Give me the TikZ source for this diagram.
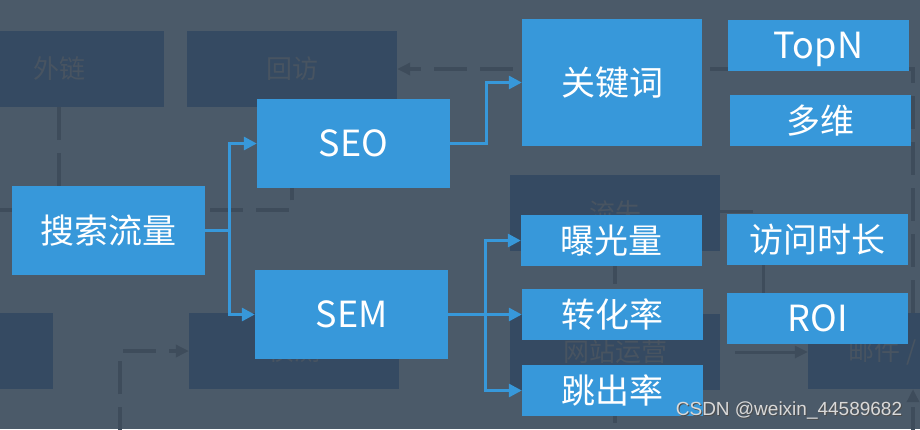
\documentclass[tikz,border=0pt]{standalone}
\usepackage{fontspec}
\setmainfont{Liberation Sans}
\newfontfamily\cjk{Noto Sans CJK SC}
\usetikzlibrary{arrows.meta}
\definecolor{bgc}{RGB}{75,90,105}
\definecolor{fboxc}{RGB}{53,74,98}
\definecolor{flinec}{RGB}{62,76,91}
\definecolor{ftextc}{RGB}{72,84,97}
\definecolor{blu}{RGB}{55,152,218}
\begin{document}
\begin{tikzpicture}[x=1pt,y=-1pt,
  bbox/.style={fill=blu, text=white, inner sep=0pt, text height=26pt, text depth=0pt,
    font=\cjk\fontsize{34}{40}\selectfont},
  bigbox/.style={bbox, minimum width=193pt, minimum height=89pt},
  smallbox/.style={bbox, minimum width=181pt, minimum height=51pt},
  latin/.style={font=\cjk\fontsize{36}{40}\selectfont},
  fbx/.style={fill=fboxc, draw=none, inner sep=0pt, text=ftextc,
    font=\cjk\fontsize{26}{30}\selectfont, minimum width=210pt, minimum height=76pt},
  ftx/.style={text=ftextc, font=\cjk\fontsize{26}{30}\selectfont, inner sep=0pt},
  bl/.style={draw=blu, line width=3pt, line cap=rect},
  blarrow/.style={bl, -{Triangle[length=13pt,width=13pt]}},
  dk/.style={draw=flinec, line width=4pt},
  dkdash/.style={dk, dash pattern=on 33pt off 13pt},
  dkarrow/.style={-{Triangle[length=13pt,width=12pt]}},
]
\useasboundingbox[fill=bgc] (0,0) rectangle (920,429);

% faded background diagram
\node[fbx] (wl) at (59,69) {外链};
\node[fbx] (hf) at (292,69) {回访};
\node[fbx] (ls) at (615,213) {流失};
\node[fbx] (lb) at (-52,351) {};
\node[fbx] (zc) at (294,351) {侦测};
\node[fbx] (wz) at (615,352) {网站运营};
\node[fbx] (yj) at (913,351) {};
\node[ftx, anchor=west] (yjt) at (848,352) {邮件 /};

\coordinate (r1) at (913,69);
\draw[dkdash, dkarrow] (yj.north) -- (r1) -- (hf.east);
\coordinate (c1) at (59,210);
\draw[dkdash] (wl.south) -- (c1);
\coordinate (c2) at (-20,210);
\coordinate (c3) at (292,210);
\coordinate (c4) at (292,186);
\draw[dkdash] (c2) -- (c3) -- (c4);
\coordinate (c5) at (120,440);
\coordinate (c6) at (120,351);
\draw[dkdash, dkarrow] (c5) -- (c6) -- (zc.west);
\coordinate (c7) at (913,440);
\draw[dkdash, dkarrow] (c7) -- (yj.south);
\draw[dkdash] (ls.south) -- (wz.north);
\coordinate (c8) at (615,440);
\draw[dkdash] (wz.south) -- (c8);
\draw[dk, line width=3pt] (ls.east) ++(0,-2) -- ++(33,0);
\coordinate (c9) at (763,255);
\coordinate (c10) at (763,300);
\draw[dk, line width=3pt] (c9) -- (c10);
\coordinate (c11) at (735,352);
\draw[dk, line width=3pt, dkarrow] (c11) -- (yj.west |- c11);

% blue diagram
\node[bigbox] (ss) at (108.5,230.5) {搜索流量};
\node[bigbox, latin] (seo) at (353.5,143.5) {SEO};
\node[bigbox, latin] (sem) at (351.5,314.5) {SEM};
\node[bbox, minimum width=180pt, minimum height=127pt] (gjc) at (612,82.5) {关键词};
\node[smallbox, latin] (topn) at (818.5,45.5) {TopN};
\node[smallbox] (dw) at (820.5,120.5) {多维};
\node[smallbox] (bgl) at (611.5,240.5) {曝光量};
\node[smallbox] (zhl) at (612.5,314.5) {转化率};
\node[smallbox] (tcl) at (612.5,390.5) {跳出率};
\node[smallbox] (fw) at (817.5,239) {访问时长};
\node[smallbox, latin] (roi) at (817.5,318.5) {ROI};

\coordinate (j1) at (229,230.5);
\draw[blarrow] (ss.east) -- (j1) |- (seo.west);
\draw[blarrow] (j1) |- (sem.west);
\coordinate (j2) at (486,143.5);
\draw[blarrow] (seo.east) -- (j2) |- (gjc.west);
\coordinate (j3) at (485,314.5);
\draw[bl] (sem.east) -- (j3);
\draw[blarrow] (j3) |- (bgl.west);
\draw[blarrow] (j3) -- (zhl.west);
\draw[blarrow] (j3) |- (tcl.west);

% watermark
\node[text=black!70, font=\fontsize{19}{22}\selectfont, inner sep=0pt] (wms) at (790,411) {CSDN @weixin\_44589682};
\node[text=white!85!black, font=\fontsize{19}{22}\selectfont, inner sep=0pt] (wm) at (789,410) {CSDN @weixin\_44589682};
\end{tikzpicture}
\end{document}
